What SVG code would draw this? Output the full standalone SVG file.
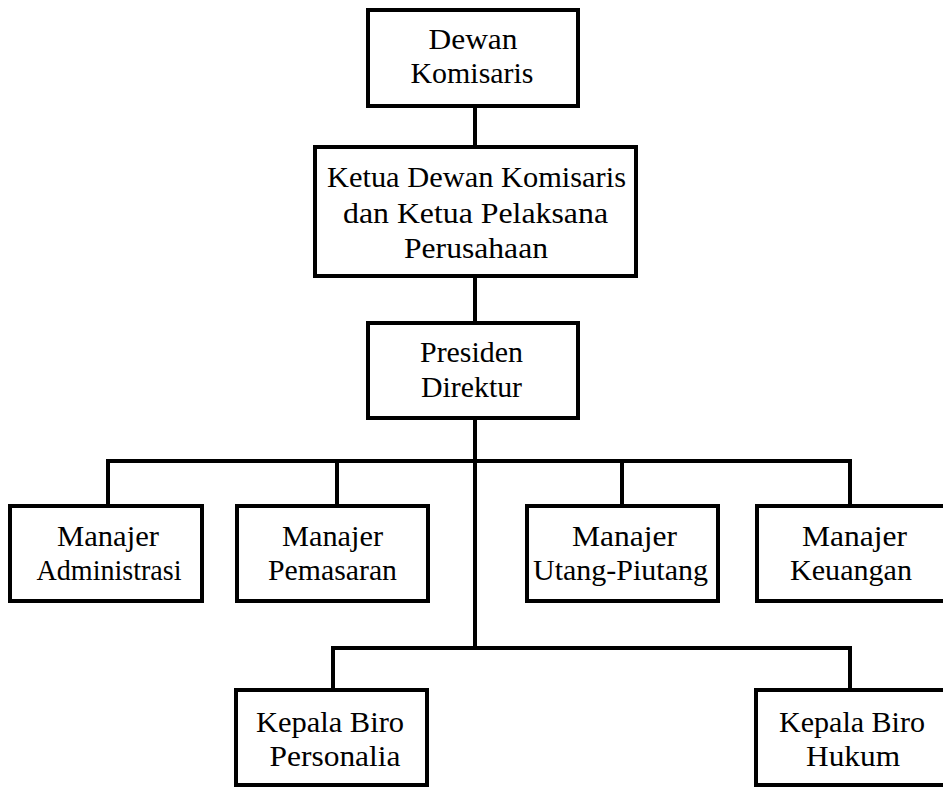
<svg xmlns="http://www.w3.org/2000/svg" width="943" height="787" viewBox="0 0 943 787">
<style>
.box{fill:#fff;stroke:#000;stroke-width:4}
.t{font-family:"Liberation Serif","Times New Roman",serif;font-size:30px;fill:#000;text-anchor:middle}
.c{stroke:#000;stroke-width:4;fill:none}
</style>
<rect width="943" height="787" fill="#fff"/>
<g id="connectors">
<line class="c" x1="475" y1="106" x2="475" y2="147"/>
<line class="c" x1="475" y1="276" x2="475" y2="323"/>
<line class="c" x1="475" y1="418" x2="475" y2="648"/>
<polyline class="c" points="108,506 108,461 850,461 850,506"/>
<line class="c" x1="337" y1="461" x2="337" y2="506"/>
<line class="c" x1="622" y1="461" x2="622" y2="506"/>
<polyline class="c" points="333,690 333,648 850,648 850,690"/>
</g>
<g id="dewan-komisaris">
<rect class="box" x="368" y="10" width="210" height="96"/>
<text class="t" x="473" y="49" textLength="89" lengthAdjust="spacingAndGlyphs">Dewan</text>
<text class="t" x="472" y="83" textLength="123" lengthAdjust="spacingAndGlyphs">Komisaris</text>
</g>
<g id="ketua">
<rect class="box" x="315" y="147" width="321" height="129"/>
<text class="t" x="476.5" y="187" textLength="299" lengthAdjust="spacingAndGlyphs">Ketua Dewan Komisaris</text>
<text class="t" x="475.5" y="223" textLength="265" lengthAdjust="spacingAndGlyphs">dan Ketua Pelaksana</text>
<text class="t" x="476" y="258" textLength="144" lengthAdjust="spacingAndGlyphs">Perusahaan</text>
</g>
<g id="presiden-direktur">
<rect class="box" x="368" y="323" width="210" height="95"/>
<text class="t" x="471.5" y="362" textLength="103" lengthAdjust="spacingAndGlyphs">Presiden</text>
<text class="t" x="471.5" y="397" textLength="101" lengthAdjust="spacingAndGlyphs">Direktur</text>
</g>
<g id="manajer-administrasi">
<rect class="box" x="10" y="506" width="192" height="95"/>
<text class="t" x="108" y="546" textLength="102" lengthAdjust="spacingAndGlyphs">Manajer</text>
<text class="t" x="109" y="580" textLength="145" lengthAdjust="spacingAndGlyphs">Administrasi</text>
</g>
<g id="manajer-pemasaran">
<rect class="box" x="237" y="506" width="191" height="95"/>
<text class="t" x="332.5" y="546" textLength="101" lengthAdjust="spacingAndGlyphs">Manajer</text>
<text class="t" x="332.5" y="580" textLength="129" lengthAdjust="spacingAndGlyphs">Pemasaran</text>
</g>
<g id="manajer-utang-piutang">
<rect class="box" x="527" y="506" width="191" height="95"/>
<text class="t" x="624.5" y="546" textLength="105" lengthAdjust="spacingAndGlyphs">Manajer</text>
<text class="t" x="620.5" y="580" textLength="175" lengthAdjust="spacingAndGlyphs">Utang-Piutang</text>
</g>
<g id="manajer-keuangan">
<rect class="box" x="757" y="506" width="190" height="95"/>
<text class="t" x="854.5" y="546" textLength="105" lengthAdjust="spacingAndGlyphs">Manajer</text>
<text class="t" x="851" y="580" textLength="122" lengthAdjust="spacingAndGlyphs">Keuangan</text>
</g>
<g id="kepala-biro-personalia">
<rect class="box" x="236" y="690" width="191" height="95"/>
<text class="t" x="330" y="732" textLength="148" lengthAdjust="spacingAndGlyphs">Kepala Biro</text>
<text class="t" x="335" y="766" textLength="131" lengthAdjust="spacingAndGlyphs">Personalia</text>
</g>
<g id="kepala-biro-hukum">
<rect class="box" x="756" y="690" width="191" height="95"/>
<text class="t" x="852" y="732" textLength="146" lengthAdjust="spacingAndGlyphs">Kepala Biro</text>
<text class="t" x="853" y="766" textLength="94" lengthAdjust="spacingAndGlyphs">Hukum</text>
</g>
</svg>
